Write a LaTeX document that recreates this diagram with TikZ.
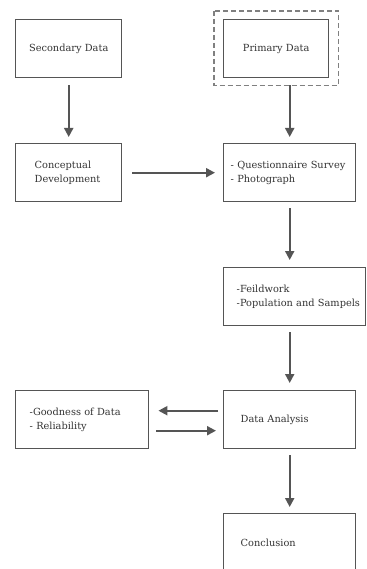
\documentclass[tikz,border=0pt]{standalone}
\usepackage{fontspec}
\setmainfont{DejaVu Serif}
\usepackage{xcolor}
\usetikzlibrary{arrows.meta,calc}
\definecolor{boxgray}{HTML}{555555}
\definecolor{txtgray}{HTML}{333333}
\tikzset{
    box/.style={draw=boxgray, line width=1.4pt, anchor=north west, minimum height=58pt,
        align=left, text=txtgray, font=\fontsize{9.8}{14}\selectfont},
    flow/.style={draw=boxgray, line width=2pt, -{Triangle[length=9pt,width=9pt]}}
}

\begin{document}
\begin{tikzpicture}[x=1pt,y=-1pt]
    \useasboundingbox (0,0) rectangle (366,569);

    % boxes
    \node[box, text width=96pt, inner xsep=5pt, align=center] (sec) at (15,19) {Secondary Data};
    \node[box, text width=95pt, inner xsep=5pt, align=center] (prim) at (223,19) {Primary Data};
    \node[box, text width=68pt, inner xsep=19pt] (conc) at (15,143) {Conceptual\\Development};
    \node[box, text width=118pt, inner xsep=7pt] (quest) at (223,143) {- Questionnaire Survey\\- Photograph};
    \node[box, text width=116pt, inner xsep=13pt] (field) at (223,267) {-Feildwork\\\mbox{-Population and Sampels}};
    \node[box, text width=98pt, inner xsep=17pt] (da) at (223,390) {Data Analysis};
    \node[box, text width=105pt, inner xsep=14pt] (good) at (15,390) {-Goodness of Data\\- Reliability};
    \node[box, text width=98pt, inner xsep=17pt] (concl) at (223,513) {Conclusion};

    \draw[boxgray!75, line width=1.4pt, dash pattern=on 5pt off 3pt] ([shift={(-9pt,8pt)}]prim.north west) rectangle ([shift={(9pt,-7pt)}]prim.south east);

    % arrows
    \draw[flow] ([yshift=-7pt]sec.south) -- ([yshift=6pt]conc.north);
    \draw[flow] ($(quest.north |- prim.south)+(0,7)$) -- ([yshift=6pt]quest.north);
    \draw[flow] ([xshift=10pt]conc.east) -- ([xshift=-8pt]quest.west);
    \draw[flow] ([yshift=-6pt]quest.south) -- ($(quest.north |- field.north)+(0,-7)$);
    \draw[flow] ($(quest.north |- field.south)+(0,6)$) -- ([yshift=7pt]da.north);
    \draw[flow] ($(da.west)+(-5,-9)$) -- ($(good.east)+(9,-9)$);
    \draw[flow] ($(good.east)+(7,11)$) -- ($(da.west)+(-7,11)$);
    \draw[flow] ([yshift=-6pt]da.south) -- ([yshift=6pt]concl.north);
\end{tikzpicture}
\end{document}
